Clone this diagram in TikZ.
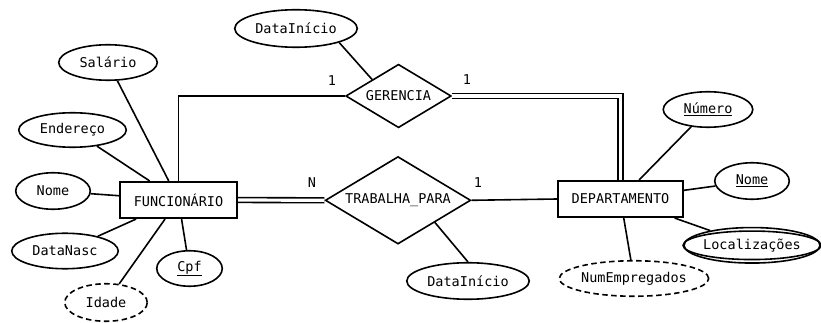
\documentclass[tikz,border=0pt]{standalone}
\usepackage{fontspec}
\setmonofont{DejaVu Sans Mono}
\usetikzlibrary{shapes.geometric}
\begin{document}
\begin{tikzpicture}[x=1pt,y=-1pt, line width=1.6pt,
  every node/.style={font=\fontsize{13.5}{16}\selectfont\ttfamily},
  ent/.style={draw, rectangle, inner sep=0pt},
  attr/.style={draw, ellipse, inner sep=0pt},
  der/.style={attr, dash pattern=on 5.5pt off 3.5pt},
  rel/.style={draw, diamond, inner sep=0pt, shape aspect=2},
  dbl/.style={double, double distance=3.2pt},
  card/.style={inner sep=0pt}]
\useasboundingbox (0,0) rectangle (821,323);

% entities
\node[ent, minimum width=117.5pt, minimum height=36.5pt] (F) at (178.5,200) {FUNCIONÁRIO};
\node[ent, minimum width=125.5pt, minimum height=36.5pt] (D) at (620.5,199) {DEPARTAMENTO};

% relationships
\node[rel, minimum width=105.5pt, minimum height=63.5pt] (G) at (398.5,96) {GERENCIA};
\node[rel, minimum width=145.5pt, minimum height=87.5pt] (T) at (398,200.3) {TRABALHA\_PARA};

% attributes of FUNCIONARIO
\node[attr, minimum width=98.5pt, minimum height=35.5pt] (sal) at (108,62.5) {Salário};
\node[attr, minimum width=107.5pt, minimum height=34.5pt] (end) at (72.5,130) {Endereço};
\node[attr, minimum width=74.5pt, minimum height=36.5pt] (nomeF) at (53,191) {Nome};
\node[attr, minimum width=106.5pt, minimum height=35.5pt] (dnasc) at (65,251) {DataNasc};
\node[attr, minimum width=65.5pt, minimum height=35.5pt] (cpf) at (189.5,268.5) {\underline{Cpf}};
\node[der, minimum width=82.5pt, minimum height=37.5pt] (idade) at (106,302.5) {Idade};

% attributes of relationships
\node[attr, minimum width=122.5pt, minimum height=37.5pt] (di1) at (296,28.5) {DataInício};
\node[attr, minimum width=122.5pt, minimum height=36.5pt] (di2) at (468,281) {DataInício};

% attributes of DEPARTAMENTO
\node[attr, minimum width=89.5pt, minimum height=35.5pt] (num) at (708,109.5) {\underline{Número}};
\node[attr, minimum width=74.5pt, minimum height=36.5pt] (nomeD) at (752,181) {\underline{Nome}};
\node[attr, minimum width=116.5pt, minimum height=28.5pt] (loc) at (752,245.3) {Localizações};
\node[attr, minimum width=136pt, minimum height=35.5pt] (locO) at (752,245.3) {};
\node[der, minimum width=146.5pt, minimum height=35.5pt] (nemp) at (634,278.5) {NumEmpregados};

% connectors
\draw (sal) -- (F);
\draw (end) -- (F);
\draw (nomeF) -- (F);
\draw (dnasc) -- (F);
\draw (cpf) -- (F);
\draw (idade) -- (F);

\draw (num) -- (D);
\draw (nomeD) -- (D);
\draw (locO) -- (D);
\draw (nemp) -- (D);

\draw (di1.-18) -- (G.148);
\draw (di2.north) -- (T.-31);

\draw (F.north) |- (G.west);
\draw[dbl] (G.east) -| (D.north);
\draw[dbl] (F.east) -- (T.west);
\draw (T.east) -- (D.west);

% cardinalities
\node[card] (c1) at (332,81) {1};
\node[card] (c2) at (467,80) {1};
\node[card] (c3) at (312,183) {N};
\node[card] (c4) at (478,183) {1};
\end{tikzpicture}
\end{document}
